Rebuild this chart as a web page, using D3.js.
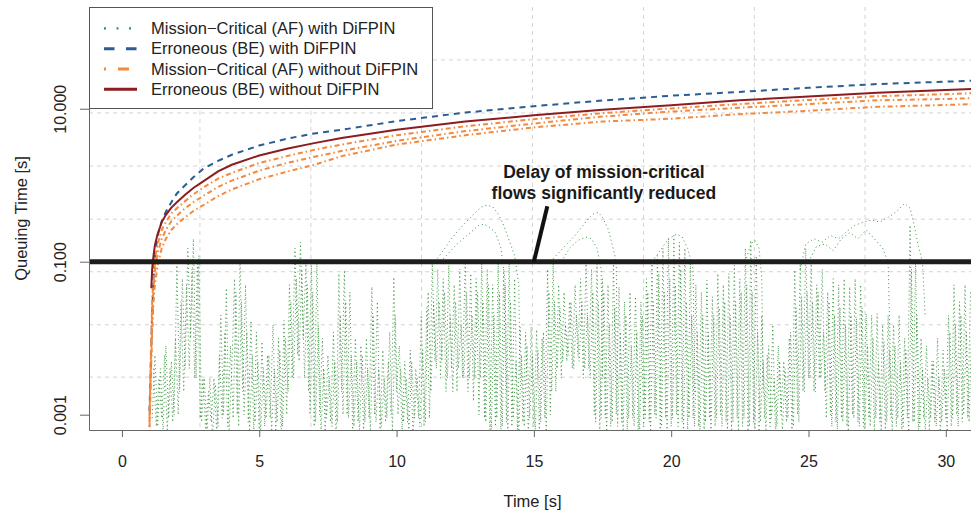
<!DOCTYPE html>
<html>
<head>
<meta charset="utf-8">
<script src="https://cdn.jsdelivr.net/npm/d3@7"></script>
<style>
  body { margin: 0; background: #fff; }
  text { font-family: "Liberation Sans", Arial, sans-serif; }
</style>
</head>
<body>
<script>

// ---- data ----

const xTicks = [0, 5, 10, 15, 20, 25, 30];
const yTicks = [0.001, 0.1, 10];
const xGrid = [2.84, 6.88, 10.91, 14.95, 18.99, 23.03, 27.06];
const yGrid = [0.0031, 0.015, 0.074, 0.36, 1.78, 8.8, 43.5];

const legendLabels = [
    "Mission\u2212Critical (AF) with DiFPIN",
    "Erroneous (BE) with DiFPIN",
    "Mission\u2212Critical (AF) without DiFPIN",
    "Erroneous (BE) without DiFPIN"
];

// queue time of the erroneous / non-protected flows [s]
const lineTimes   = [1.0, 1.04, 1.07, 1.1, 1.15, 1.2, 1.3, 1.45, 1.6, 1.8, 2.0, 2.3, 2.6, 3.0, 3.5, 4.0, 5.0, 6.0, 7.0, 8.0, 10, 12.5, 15, 17.5, 20, 22.5, 25, 27.5, 30, 31.1];
const beWithout   = [null, null, 0.045, 0.08, 0.12, 0.165, 0.23, 0.33, 0.41, 0.51, 0.6, 0.75, 0.92, 1.15, 1.52, 1.85, 2.45, 3.0, 3.55, 4.15, 5.3, 6.8, 8.2, 9.7, 11.1, 12.9, 14.5, 16.2, 17.6, 18.2];
const beWith      = [0.0011, 0.003, 0.008, 0.02, 0.06, 0.12, 0.22, 0.34, 0.45, 0.6, 0.78, 1.0, 1.27, 1.68, 2.08, 2.5, 3.3, 4.05, 4.75, 5.3, 6.9, 8.9, 10.8, 12.8, 14.8, 16.6, 18.8, 21.0, 22.6, 23.3];
const afWithout1  = [0.0008, 0.004, 0.012, 0.03, 0.07, 0.11, 0.17, 0.26, 0.33, 0.43, 0.5, 0.62, 0.76, 0.95, 1.22, 1.45, 1.95, 2.4, 2.9, 3.4, 4.5, 5.9, 7.3, 8.75, 10.1, 11.5, 13.0, 14.6, 15.5, 16.0];
const afWithout2  = [0.0007, 0.003, 0.008, 0.02, 0.045, 0.075, 0.13, 0.2, 0.26, 0.34, 0.4, 0.5, 0.6, 0.74, 0.95, 1.15, 1.55, 1.95, 2.35, 2.8, 3.8, 5.1, 6.4, 7.9, 9.2, 10.3, 11.5, 12.9, 13.4, 13.8];
const afWithout3  = [0.0006, 0.002, 0.005, 0.012, 0.03, 0.05, 0.09, 0.15, 0.2, 0.26, 0.31, 0.38, 0.46, 0.56, 0.72, 0.88, 1.2, 1.5, 1.85, 2.4, 3.4, 4.5, 5.7, 6.8, 7.4, 8.5, 9.4, 10.6, 11.2, 11.5];

// mission-critical flows with DiFPIN, sampled every 0.1 s
const afWithStep = 0.1;
const afWithStartA = 1.1;
const afWithA = [
    .0009,.006,.0007,.004,.0006,.008,.0009,.005,.001,.09,
    .002,.06,.004,.15,.01,.2,.003,.12,.0008,.003,
    .0006,.003,.0005,.0025,.0007,.02,.001,.045,.0006,.004,
    .06,.001,.11,.002,.05,.0008,.017,.0006,.012,.0005,
    .009,.0007,.006,.0009,.015,.0006,.01,.0005,.017,.001,
    .05,.003,.15,.006,.18,.01,.1,.002,.09,.0007,
    .1,.001,.01,.0006,.006,.0008,.012,.0005,.07,.002,
    .078,.001,.04,.0006,.01,.0008,.008,.0006,.01,.0009,
    .047,.001,.03,.0006,.007,.0008,.005,.001,.063,.002,
    .008,.0006,.005,.0008,.007,.0005,.004,.0009,.02,.0007,
    .025,.0009,.1,.005,.08,.003,.06,.002,.09,.004,
    .05,.002,.08,.003,.1,.002,.07,.0015,.06,.001,
    .1,.0009,.08,.0006,.05,.0007,.1,.0005,.08,.0008,
    .1,.0007,.06,.0006,.014,.0008,.012,.0005,.014,.0007,
    .013,.0006,.01,.0009,.08,.001,.1,.002,.05,.003,
    .04,.005,.03,.004,.05,.006,.06,.003,.1,.004,
    .08,.001,.1,.0006,.06,.0009,.05,.0007,.1,.001,
    .047,.0008,.03,.0006,.04,.0009,.035,.0006,.03,.0007,
    .06,.0008,.1,.001,.12,.0006,.15,.0009,.2,.0007,
    .22,.001,.18,.0008,.15,.0006,.1,.0009,.05,.0007,
    .04,.0006,.057,.0009,.035,.0007,.07,.001,.05,.0008,
    .07,.0006,.09,.0009,.06,.0007,.15,.0005,.19,.0008,
    .12,.0006,.02,.0009,.006,.0007,.015,.0005,.008,.001,
    .005,.0008,.01,.0006,.078,.001,.1,.002,.15,.003,
    .1,.002,.05,.003,.08,.002,.04,.001,.06,.0008,
    .05,.0009,.06,.0007,.047,.001,.06,.0008,.05,.0007,
    .021,.0009,.02,.0006,.021,.0008,.015,.0006,.02,.0009,
    .015,.0007,.02,.0006,.01,.0009,.3,.0008,.1,.0006,
    .01,.0009,.008,.0006,.005,.0008,.01,.0005,.007,.0009,
    .02,.0007,.05,.001,.03,.0008,.05,.0009,.04
];
const afWithStartB = 1.15;
const afWithB = [
    .004,.0007,.003,.0009,.006,.0006,.004,.0008,.01,.001,
    .03,.002,.05,.004,.08,.003,.1,.0009,.003,.0006,
    .002,.0008,.003,.0006,.006,.0009,.012,.0007,.008,.0009,
    .04,.0007,.03,.001,.012,.0006,.006,.0008,.005,.0006,
    .004,.0009,.006,.0006,.004,.0008,.007,.0007,.01,.002,
    .03,.003,.06,.005,.08,.003,.05,.001,.04,.0008,
    .015,.0006,.004,.0009,.003,.0007,.005,.0008,.02,.001,
    .03,.0009,.006,.0007,.005,.0006,.006,.0008,.004,.0006,
    .02,.0008,.004,.0007,.003,.0009,.012,.0006,.02,.001,
    .004,.0008,.003,.0006,.005,.0009,.003,.0007,.007,.0008,
    .04,.002,.03,.004,.03,.005,.04,.003,.02,.002,
    .03,.004,.015,.003,.04,.003,.02,.003,.04,.003,
    .03,.0008,.05,.0006,.02,.0009,.04,.0007,.05,.0006,
    .03,.0009,.005,.0006,.006,.0007,.008,.0009,.006,.0006,
    .007,.0008,.012,.0006,.04,.002,.03,.004,.025,.005,
    .015,.006,.03,.004,.02,.005,.03,.004,.02,.003,
    .04,.0008,.03,.0009,.04,.0006,.015,.0008,.025,.0007,
    .012,.0006,.02,.0009,.008,.0007,.012,.0006,.02,.0009,
    .04,.0006,.03,.0009,.07,.0007,.04,.0006,.06,.0009,
    .05,.0007,.08,.0006,.03,.0009,.02,.0007,.012,.0006,
    .02,.0008,.012,.0006,.02,.0009,.025,.0007,.03,.0006,
    .02,.0008,.03,.0006,.04,.0009,.05,.0007,.04,.0006,
    .012,.0008,.005,.0006,.008,.0009,.003,.0007,.005,.0006,
    .004,.0009,.012,.0007,.025,.0008,.035,.002,.04,.003,
    .03,.002,.04,.003,.012,.0009,.03,.0007,.02,.0006,
    .025,.0008,.015,.0006,.02,.0009,.018,.0007,.025,.0006,
    .008,.0007,.01,.0009,.005,.0006,.009,.0008,.007,.0006,
    .008,.0009,.005,.0007,.007,.0006,.08,.0008,.02,.0007,
    .004,.0006,.003,.0009,.005,.0007,.003,.0008,.004,.0006,
    .012,.0009,.015,.0007,.02,.001,.012,.0008,.02
];

// slow build-ups of the same flows (null = break between episodes)
const arcTimes = [
    11.4,11.7,12.0,12.3,12.6,12.9,13.1,13.3,13.5,13.7,13.9,14.1,14.3,14.45,14.5, null,
    11.6,11.9,12.2,12.5,12.8,13.0,13.2,13.4,13.6,13.8,13.95,14.0, null,
    15.6,15.9,16.2,16.5,16.8,17.0,17.2,17.35,17.5,17.7,17.85,18.0,18.05, null,
    16.0,16.3,16.6,16.9,17.1,17.3,17.45,17.5, null,
    19.3,19.6,19.9,20.2,20.4,20.6,20.8,20.85, null,
    22.7,22.9,23.05,23.2,23.3,23.35, null,
    24.7,24.9,25.2,25.5,25.8,26.1,26.4,26.7,27.0,27.3,27.6,27.9,28.2,28.5,28.7,28.85,29.0,29.15,29.25, null,
    25.0,25.3,25.6,25.9,26.2,26.5,26.8,27.1,27.4,27.7,27.9,28.0
];
const arcValues = [
    .1,.14,.2,.27,.35,.45,.52,.55,.52,.42,.3,.19,.12,.05,.003, null,
    .1,.13,.17,.21,.26,.3,.31,.28,.24,.15,.06,.002, null,
    .1,.13,.17,.22,.3,.37,.43,.44,.38,.27,.17,.1,.002, null,
    .1,.15,.19,.21,.2,.15,.08,.003, null,
    .1,.14,.2,.23,.21,.15,.08,.002, null,
    .1,.17,.19,.15,.06,.002, null,
    .08,.17,.2,.18,.22,.2,.25,.3,.33,.35,.33,.38,.45,.58,.5,.3,.16,.1,.02, null,
    .1,.16,.17,.14,.2,.24,.2,.26,.2,.15,.1,.003
];

const threshold = 0.1;
const notePointer = [[15, 0.1], [15.49, 0.53]];
const noteAt = [17.55, 1.26];
const noteLines = ["Delay of mission-critical", "flows significantly reduced"];

// ---- layout ----

const width = 971, height = 510;
const plot = {left: 89, right: 976, top: 7, bottom: 430};

let svg = d3.select("body")
            .append("svg")
            .attr("width", width)
            .attr("height", height);

let x = d3.scaleLinear()
          .domain([-1.2, 31.1])
          .range([plot.left, plot.right]);

let y = d3.scaleLog()
          .domain([Math.pow(10, -3.2), Math.pow(10, 2.33)])
          .range([plot.bottom, plot.top]);

svg.append("clipPath")
    .attr("id", "clip")
    .append("rect")
        .attr("x", plot.left)
        .attr("y", plot.top)
        .attr("width", plot.right - plot.left)
        .attr("height", plot.bottom - plot.top);

// grid
let grid = svg.append("g")
              .attr("stroke", "#d4d4d4")
              .attr("stroke-dasharray", "4,4")
              .attr("stroke-width", 1);

grid.selectAll(".gx")
    .data(xGrid)
    .enter()
    .append("line")
        .attr("x1", d => x(d)).attr("x2", d => x(d))
        .attr("y1", plot.top).attr("y2", plot.bottom);

grid.selectAll(".gy")
    .data(yGrid)
    .enter()
    .append("line")
        .attr("x1", plot.left).attr("x2", plot.right)
        .attr("y1", d => y(d)).attr("y2", d => y(d));

let g = svg.append("g").attr("clip-path", "url(#clip)");

let line = d3.line()
             .defined(d => d[0] != null && d[1] != null)
             .x(d => x(d[0]))
             .y(d => y(d[1]));

const green = "#3a913d";

function sampled(start, values) {
    return values.map((v, i) => [start + i * afWithStep, v]);
}

[sampled(afWithStartA, afWithA), sampled(afWithStartB, afWithB), arcTimes.map((t, i) => [t, arcValues[i]])]
    .forEach(pts => {
        g.append("path")
            .attr("d", line(pts))
            .attr("fill", "none")
            .attr("stroke", green)
            .attr("stroke-width", 1)
            .attr("stroke-opacity", 0.9)
            .attr("stroke-dasharray", "1.1,2.9");
    });

// BE with DiFPIN
g.append("path")
    .attr("d", line(lineTimes.map((t, i) => [t, beWith[i]])))
    .attr("fill", "none")
    .attr("stroke", "#2b5c92")
    .attr("stroke-width", 2)
    .attr("stroke-dasharray", "6,5");

// AF without DiFPIN
[afWithout1, afWithout2, afWithout3].forEach(vals => {
    g.append("path")
        .attr("d", line(lineTimes.map((t, i) => [t, vals[i]])))
        .attr("fill", "none")
        .attr("stroke", "#f4883c")
        .attr("stroke-width", 2)
        .attr("stroke-dasharray", "1.5,3,5,3");
});

// BE without DiFPIN
g.append("path")
    .attr("d", line(lineTimes.map((t, i) => [t, beWithout[i]])))
    .attr("fill", "none")
    .attr("stroke", "#8c1c1f")
    .attr("stroke-width", 2);

// threshold line and annotation
g.append("line")
    .attr("x1", plot.left).attr("x2", plot.right)
    .attr("y1", y(threshold)).attr("y2", y(threshold))
    .attr("stroke", "#1e1e1e")
    .attr("stroke-width", 5);

svg.append("line")
    .attr("x1", x(notePointer[0][0])).attr("y1", y(notePointer[0][1]))
    .attr("x2", x(notePointer[1][0])).attr("y2", y(notePointer[1][1]))
    .attr("stroke", "#111")
    .attr("stroke-width", 4);

svg.append("g")
    .selectAll("text")
    .data(noteLines)
    .enter()
    .append("text")
        .attr("x", x(noteAt[0]))
        .attr("y", (d, i) => y(noteAt[1]) + i * 21.5)
        .attr("text-anchor", "middle")
        .attr("font-weight", "bold")
        .attr("font-size", "17.5px")
        .attr("fill", "#1a1a1a")
        .text(d => d);

// axes
const axisColor = "#666";

let xAxis = svg.append("g")
    .attr("transform", `translate(0, ${plot.bottom})`)
    .call(d3.axisBottom(x).tickValues(xTicks).tickSize(7).tickSizeOuter(0).tickPadding(19));

let yAxis = svg.append("g")
    .attr("transform", `translate(${plot.left}, 0)`)
    .call(d3.axisLeft(y).tickValues(yTicks).tickFormat(d3.format(".3f")).tickSize(9).tickSizeOuter(0));

[xAxis, yAxis].forEach(a => {
    a.select(".domain").attr("stroke", axisColor);
    a.selectAll(".tick line").attr("stroke", axisColor);
    a.selectAll(".tick text")
        .attr("fill", "#222")
        .style("font-family", "'Liberation Sans', Arial, sans-serif")
        .style("font-size", "16px");
});

yAxis.selectAll(".tick text")
    .attr("x", null)
    .attr("text-anchor", "middle")
    .attr("dy", "0.35em")
    .attr("transform", "translate(-29,0) rotate(-90)");

svg.append("text")
    .attr("x", (plot.left + plot.right) / 2)
    .attr("y", 501)
    .attr("dy", "0.35em")
    .attr("text-anchor", "middle")
    .attr("font-size", "16.5px")
    .attr("fill", "#222")
    .text("Time [s]");

svg.append("text")
    .attr("transform", `translate(21, ${(plot.top + plot.bottom) / 2}) rotate(-90)`)
    .attr("dy", "0.35em")
    .attr("text-anchor", "middle")
    .attr("font-size", "16.5px")
    .attr("fill", "#222")
    .text("Queuing Time [s]");

// legend
const legendStyles = [
    {color: green,     width: 2.2, dash: "2,10.5"},
    {color: "#2b5c92", width: 3,   dash: "10.5,11.5"},
    {color: "#f4883c", width: 3,   dash: "2,12,11,20"},
    {color: "#8c1c1f", width: 3,   dash: null}
];

let legend = svg.append("g");

legend.append("rect")
    .attr("x", plot.left + 0.5)
    .attr("y", plot.top + 0.5)
    .attr("width", 343)
    .attr("height", 101)
    .attr("fill", "#fff")
    .attr("stroke", "#555");

let rows = legend.selectAll(".row")
    .data(legendLabels)
    .enter()
    .append("g")
        .attr("transform", (d, i) => `translate(0, ${28.4 + i * 20.3})`);

rows.append("line")
    .attr("x1", 104).attr("x2", 137)
    .attr("stroke", (d, i) => legendStyles[i].color)
    .attr("stroke-width", (d, i) => legendStyles[i].width)
    .attr("stroke-dasharray", (d, i) => legendStyles[i].dash);

rows.append("text")
    .attr("x", 151)
    .attr("dy", "0.35em")
    .attr("font-size", "16.5px")
    .attr("fill", "#222")
    .text(d => d);

</script>
</body>
</html>
